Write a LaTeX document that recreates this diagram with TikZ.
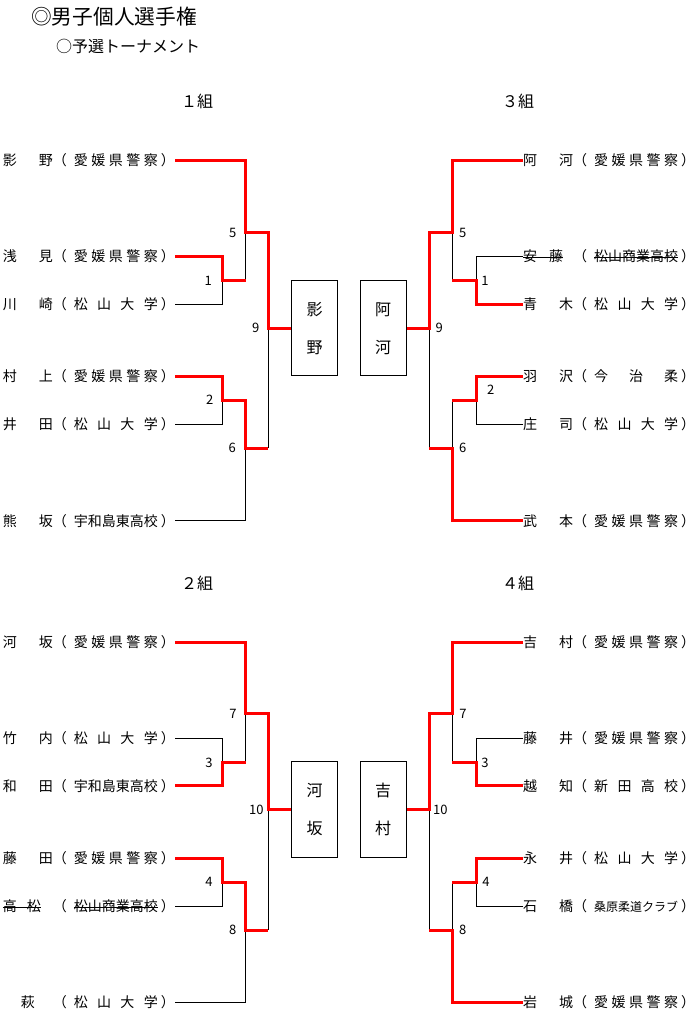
\documentclass[tikz,border=0pt]{standalone}
\usepackage{fontspec}
\setmainfont{Noto Sans CJK JP}
\usetikzlibrary{positioning}
\definecolor{winred}{RGB}{255,0,0}

% name cells, struck text and one player row
\newcommand{\nm}[2]{\makebox[36pt][l]{#1}#2}
\newcommand{\strk}[1]{\setbox0\hbox{#1}\rlap{\rule[4.6pt]{\wd0}{0.7pt}}\box0}
\newcommand{\who}[2]{\makebox[50pt][l]{#1}\makebox[14pt][l]{（}\hspace{7pt}\makebox[84pt][s]{#2}\hspace{3pt}\makebox[14pt][l]{）}}

\begin{document}
\begin{tikzpicture}[
    x=1pt, y=-1pt,
    player/.style={inner sep=0pt, text height=10.6pt, text depth=0pt, font=\fontsize{14}{14}\selectfont},
    lplayer/.style={player, anchor=east},
    rplayer/.style={player, anchor=west},
    num/.style={inner sep=0pt, text height=9.3pt, text depth=0pt, font=\fontsize{13}{13}\selectfont},
    grp/.style={inner sep=0pt, font=\fontsize{16}{16}\selectfont},
    winbox/.style={draw, line width=1pt, minimum width=45.6pt, minimum height=95.3pt, inner sep=0pt, align=center, font=\fontsize{16}{38}\selectfont},
    lose/.style={line width=1pt, black},
    win/.style={line width=3pt, winred}
]
    \useasboundingbox (0,0) rectangle (698,1027);

    % Heading
    \node[anchor=west, inner sep=0pt, font=\fontsize{20.7}{20.7}\selectfont] (title) at (31,17) {◎男子個人選手権};
    \node[anchor=west, inner sep=0pt, font=\fontsize{16}{16}\selectfont] (sub) at (56,46) {○予選トーナメント};

    % Group titles
    \node[grp] (g1) at (197,101) {１組};
    \node[grp] (g3) at (518,101) {３組};
    \node[grp] (g2) at (197,583) {２組};
    \node[grp] (g4) at (518,583) {４組};

    % Group 1 players
    \node[lplayer] (kageno) at (175,160.5) {\who{\nm{影}{野}}{愛 媛 県 警 察}};
    \node[lplayer] (asami) at (175,256.5) {\who{\nm{浅}{見}}{愛 媛 県 警 察}};
    \node[lplayer] (kawasaki) at (175,304) {\who{\nm{川}{崎}}{松 山 大 学}};
    \node[lplayer] (murakami) at (175,376) {\who{\nm{村}{上}}{愛 媛 県 警 察}};
    \node[lplayer] (ida) at (175,424) {\who{\nm{井}{田}}{松 山 大 学}};
    \node[lplayer] (kumasaka) at (175,520.7) {\who{\nm{熊}{坂}}{宇和島東高校}};

    % Group 3 players
    \node[rplayer] (akawa) at (523,160.5) {\who{\nm{阿}{河}}{愛 媛 県 警 察}};
    \node[rplayer] (ando) at (523,256.5) {\who{\strk{\makebox[26pt][l]{安}藤}}{\strk{松山商業高校}}};
    \node[rplayer] (aoki) at (523,304) {\who{\nm{青}{木}}{松 山 大 学}};
    \node[rplayer] (hanezawa) at (523,376) {\who{\nm{羽}{沢}}{今 治 柔}};
    \node[rplayer] (shoji) at (523,424) {\who{\nm{庄}{司}}{松 山 大 学}};
    \node[rplayer] (takemoto) at (523,520.7) {\who{\nm{武}{本}}{愛 媛 県 警 察}};

    % Group 2 players
    \node[lplayer] (kawasaka) at (175,642.5) {\who{\nm{河}{坂}}{愛 媛 県 警 察}};
    \node[lplayer] (takeuchi) at (175,738) {\who{\nm{竹}{内}}{松 山 大 学}};
    \node[lplayer] (wada) at (175,785.7) {\who{\nm{和}{田}}{宇和島東高校}};
    \node[lplayer] (fujita) at (175,858.5) {\who{\nm{藤}{田}}{愛 媛 県 警 察}};
    \node[lplayer] (takamatsu) at (175,906.5) {\who{\strk{\makebox[24pt][l]{高}松}}{\strk{松山商業高校}}};
    \node[lplayer] (hagi) at (175,1002) {\who{\hspace{18pt}萩}{松 山 大 学}};

    % Group 4 players
    \node[rplayer] (yoshimura) at (523,642.5) {\who{\nm{吉}{村}}{愛 媛 県 警 察}};
    \node[rplayer] (fujii) at (523,738) {\who{\nm{藤}{井}}{愛 媛 県 警 察}};
    \node[rplayer] (ochi) at (523,785.7) {\who{\nm{越}{知}}{新 田 高 校}};
    \node[rplayer] (nagai) at (523,858.5) {\who{\nm{永}{井}}{松 山 大 学}};
    \node[rplayer] (ishibashi) at (523,906.5) {\who{\nm{石}{橋}}{\fontsize{12}{12}\selectfont 桑原柔道クラブ}};
    \node[rplayer] (iwaki) at (523,1002) {\who{\nm{岩}{城}}{愛 媛 県 警 察}};

    % Finalists
    \node[winbox] (box1l) at (314.5,328.3) {影\\野};
    \node[winbox] (box1r) at (383.2,328.3) {阿\\河};
    \node[winbox] (box2l) at (314.5,809.5) {河\\坂};
    \node[winbox] (box2r) at (383.2,809.5) {吉\\村};

    % Match points, left
    \coordinate (m1) at (222.3,280.5);
    \coordinate (m2) at (222.3,400);
    \coordinate (m5) at (245.7,232.5);
    \coordinate (m6) at (245.7,448);
    \coordinate (m9) at (268.3,328.3);
    \coordinate (m3) at (222.3,762.5);
    \coordinate (m4) at (222.3,882);
    \coordinate (m7) at (245.7,713.5);
    \coordinate (m8) at (245.7,930);
    \coordinate (m10) at (268.3,809.5);

    % Match points, right
    \coordinate (n1) at (476,280.5);
    \coordinate (n2) at (476,400);
    \coordinate (n5) at (452.3,232.5);
    \coordinate (n6) at (452.3,448);
    \coordinate (n9) at (429.3,328.3);
    \coordinate (n3) at (476,762.5);
    \coordinate (n4) at (476,882);
    \coordinate (n7) at (452.3,713.5);
    \coordinate (n8) at (452.3,930);
    \coordinate (n10) at (429.3,809.5);

    % Lost lines
    \draw[lose] (kawasaki.east) -| (m1);
    \draw[lose] (ida.east) -| (m2);
    \draw[lose] (kumasaka.east) -| (m6);
    \draw[lose] (m5 |- m1) -- (m5);
    \draw[lose] (m9 |- m6) -- (m9);
    \draw[lose] (ando.west) -| (n1);
    \draw[lose] (shoji.west) -| (n2);
    \draw[lose] (n5 |- n1) -- (n5);
    \draw[lose] (n6 |- n2) -- (n6);
    \draw[lose] (n9 |- n6) -- (n9);
    \draw[lose] (takeuchi.east) -| (m3);
    \draw[lose] (takamatsu.east) -| (m4);
    \draw[lose] (hagi.east) -| (m8);
    \draw[lose] (m7 |- m3) -- (m7);
    \draw[lose] (m10 |- m8) -- (m10);
    \draw[lose] (fujii.west) -| (n3);
    \draw[lose] (ishibashi.west) -| (n4);
    \draw[lose] (n7 |- n3) -- (n7);
    \draw[lose] (n8 |- n4) -- (n8);
    \draw[lose] (n10 |- n8) -- (n10);

    % Winners
    \draw[win] (kageno.east) -| (m5) -| (m9) -- (box1l.west);
    \draw[win] (asami.east) -| (m1) -- (m5 |- m1);
    \draw[win] (murakami.east) -| (m2) -| (m6) -- (m9 |- m6);
    \draw[win] (akawa.west) -| (n5) -| (n9) -- (box1r.east);
    \draw[win] (aoki.west) -| (n1) -- (n5 |- n1);
    \draw[win] (hanezawa.west) -| (n2) -- (n6 |- n2);
    \draw[win] (takemoto.west) -| (n6) -- (n9 |- n6);
    \draw[win] (kawasaka.east) -| (m7) -| (m10) -- (box2l.west);
    \draw[win] (wada.east) -| (m3) -- (m7 |- m3);
    \draw[win] (fujita.east) -| (m4) -| (m8) -- (m10 |- m8);
    \draw[win] (yoshimura.west) -| (n7) -| (n10) -- (box2r.east);
    \draw[win] (ochi.west) -| (n3) -- (n7 |- n3);
    \draw[win] (nagai.west) -| (n4) -- (n8 |- n4);
    \draw[win] (iwaki.west) -| (n8) -- (n10 |- n8);

    % Match numbers
    \node[num, xshift=-14pt] (l1) at (m1) {1};
    \node[num, xshift=-12.5pt] (l2) at (m2) {2};
    \node[num, xshift=-13pt] (l5) at (m5) {5};
    \node[num, xshift=-13.5pt] (l6) at (m6) {6};
    \node[num, xshift=-12.5pt] (l9) at (m9) {9};
    \node[num, xshift=-13.3pt] (l3) at (m3) {3};
    \node[num, xshift=-13.3pt] (l4) at (m4) {4};
    \node[num, xshift=-12.8pt] (l7) at (m7) {7};
    \node[num, xshift=-13pt] (l8) at (m8) {8};
    \node[num, xshift=-12pt] (l10) at (m10) {10};
    \node[num, xshift=9pt] (r1) at (n1) {1};
    \node[num, xshift=14.7pt, yshift=10pt] (r2) at (n2) {2};
    \node[num, xshift=10.4pt] (r5) at (n5) {5};
    \node[num, xshift=10.4pt] (r6) at (n6) {6};
    \node[num, xshift=10pt] (r9) at (n9) {9};
    \node[num, xshift=9pt] (r3) at (n3) {3};
    \node[num, xshift=10pt] (r4) at (n4) {4};
    \node[num, xshift=10.7pt] (r7) at (n7) {7};
    \node[num, xshift=10.4pt] (r8) at (n8) {8};
    \node[num, xshift=11pt] (r10) at (n10) {10};

\end{tikzpicture}
\end{document}
